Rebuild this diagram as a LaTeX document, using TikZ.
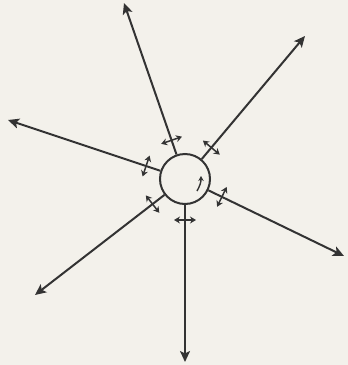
\documentclass[tikz,border=0pt]{standalone}
\usetikzlibrary{arrows.meta,calc}
\definecolor{paper}{HTML}{F3F1EB}
\definecolor{ink}{HTML}{333333}
\tikzset{
  ray/.style={draw=ink, line width=2pt, -{Stealth[length=11pt,width=10pt,inset=2.5pt]}},
  small/.style={draw=ink, line width=1.5pt, {Stealth[length=6pt,width=7pt]}-{Stealth[length=6pt,width=7pt]}},
  hub/.style={circle, draw=ink, line width=2pt, minimum size=50pt, inner sep=0pt}
}
\begin{document}
\begin{tikzpicture}[x=1pt,y=-1pt]
\fill[paper] (0,0) rectangle (348,365);
\useasboundingbox (0,0) rectangle (348,365);
\coordinate (C) at (185,179);
\node[hub] (c) at (C) {};
\coordinate (t1) at (124,3);
\coordinate (t2) at (305,36);
\coordinate (t3) at (8,120);
\coordinate (t4) at (35,295);
\coordinate (t5) at (185,362);
\coordinate (t6) at (344,256);
\foreach \i in {1,...,6}{
  \draw[ray] (c) -- (t\i);
  \coordinate (m\i) at ($(C)!41pt!(t\i)$);
  \draw[small] ($(m\i)!11pt!90:(t\i)$) -- ($(m\i)!11pt!-90:(t\i)$);
}
\coordinate (s0) at (197,191);
\coordinate (s1) at (201,176);
\draw[draw=ink, line width=1.4pt, -{Stealth[length=5pt,width=5.5pt]}] (s0) to[bend right=15] (s1);
\end{tikzpicture}
\end{document}
